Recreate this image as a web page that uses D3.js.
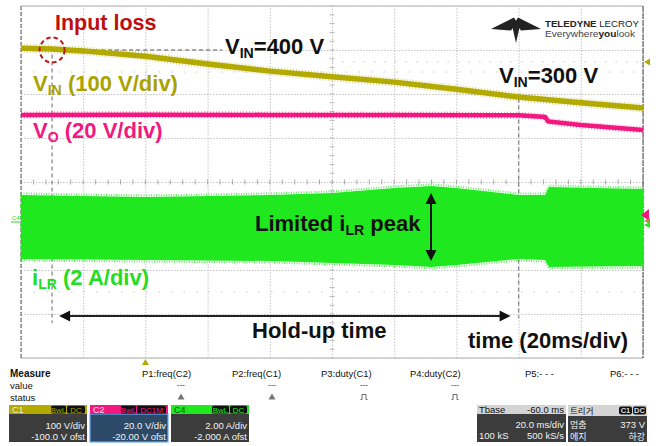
<!DOCTYPE html>
<html><head><meta charset="utf-8">
<script src="https://cdn.jsdelivr.net/npm/d3@7"></script>
<style>body{margin:0;background:#fff}svg{display:block}</style>
</head><body>
<svg id="c" width="664" height="446"></svg>
<script>
// ---------------- data ----------------
// time axis: 20 ms/div, trigger at t=0 (2 div from left), window -40..160 ms
const timeTicksMs = [-40, -20, 0, 20, 40, 60, 80, 100, 120, 140, 160];
// V_IN (C1, 100 V/div, centre = 100 V)
const vinTime  = [-40, -30, -20, 0, 20, 40, 60, 80, 100, 120, 140, 160];
const vinVolts = [404, 402, 398, 386, 368, 352, 339, 327, 311, 293, 280, 268];
// V_O (C2, 20 V/div, centre = 20 V)
const voTime  = [-40, 0, 40, 80, 120, 128.5, 129.5, 140, 160];
const voVolts = [50.5, 50.6, 50.5, 50.5, 50.3, 49.6, 47.5, 45.9, 43.6];
// i_LR envelope (C4, 2 A/div, centre = 2 A)
const ilrTime    = [-40, 0, 40, 60, 80, 92, 100, 120, 128.5, 129.8, 160];
const ilrPeakPos = [1.41, 1.32, 1.41, 1.5, 1.73, 1.82, 1.73, 1.41, 1.41, 1.77, 1.68];
const ilrPeakNeg = [-1.5, -1.55, -1.59, -1.68, -1.77, -1.86, -1.77, -1.5, -1.55, -1.86, -1.82];
// markers / annotations
const inputLossMs = -30, holdEndMs = 120;
const vinLabelLevels = [400, 300];
const triggerVolts = 373;
// measurement panel texts
const measureLabels = ["P1:freq(C2)", "P2:freq(C1)", "P3:duty(C1)", "P4:duty(C2)", "P5:- - -", "P6:- - -"];
const channelInfo = [
  {name: "C1", tags: ["BwL", "DC"], scale: "100 V/div", ofst: "-100.0 V ofst"},
  {name: "C2", tags: ["BwL", "DC1M"], scale: "20.0 V/div", ofst: "-20.00 V ofst"},
  {name: "C4", tags: ["BwL", "DC"], scale: "2.00 A/div", ofst: "-2.000 A ofst"}
];

// ---------------- layout ----------------
const L = 21, R = 643, T = 6, B = 358;
const svg = d3.select("#c");
const x = d3.scaleLinear().domain([-40, 160]).range([L, R]);
const yVin = d3.scaleLinear().domain([-300, 500]).range([B, T]);
const yVo = d3.scaleLinear().domain([-60, 100]).range([B, T]);
const yI = d3.scaleLinear().domain([-6, 10]).range([B, T]);

const COL_Y = "#b2aa00", COL_YT = "#aaa200", COL_P = "#f2187f", COL_G = "#1fe81f", COL_GT = "#22dd22";
const FONT = "'Liberation Sans', Arial, sans-serif";

// grid
const g = svg.append("g");
const gx = g.append("g").attr("transform", `translate(0,${B})`)
  .call(d3.axisBottom(x).tickValues(timeTicksMs).tickSize(-(B - T)).tickFormat(""));
gx.select(".domain").remove();
gx.selectAll("line").attr("stroke", "#c4c4c4").attr("stroke-dasharray", "1.5,1.5");
const gy = g.append("g").attr("transform", `translate(${L},0)`)
  .call(d3.axisLeft(yVin).tickValues(d3.range(-300, 501, 100)).tickSize(-(R - L)).tickFormat(""));
gy.select(".domain").remove();
gy.selectAll("line").attr("stroke", "#c4c4c4").attr("stroke-dasharray", "1.5,1.5");
// sparse dotted half-division rows
[350, -150].forEach(v => g.append("line").attr("x1", L).attr("x2", R)
  .attr("y1", yVin(v)).attr("y2", yVin(v)).attr("stroke", "#c8c8c8").attr("stroke-dasharray", "1.5,11"));
// centre tick marks
d3.range(-40, 160.1, 4).forEach(t => g.append("line").attr("x1", x(t)).attr("x2", x(t))
  .attr("y1", yVin(100) - 2.5).attr("y2", yVin(100) + 2.5).attr("stroke", "#aaa"));
d3.range(-300, 500.1, 20).forEach(v => g.append("line").attr("x1", x(60) - 2.5).attr("x2", x(60) + 2.5)
  .attr("y1", yVin(v)).attr("y2", yVin(v)).attr("stroke", "#bbb"));
// borders
g.append("line").attr("x1", L).attr("x2", R).attr("y1", T).attr("y2", T).attr("stroke", "#c8c8c8").attr("stroke-width", 1.5);
g.append("line").attr("x1", L).attr("x2", R).attr("y1", B).attr("y2", B).attr("stroke", "#c8c8c8").attr("stroke-width", 1.5);
g.append("line").attr("x1", L).attr("x2", L).attr("y1", T).attr("y2", B).attr("stroke", "#555").attr("stroke-dasharray", "4,2");
g.append("line").attr("x1", R).attr("x2", R).attr("y1", T).attr("y2", B).attr("stroke", "#444").attr("stroke-dasharray", "6,1");

// trigger level dotted line
g.append("line").attr("x1", x(60)).attr("x2", R).attr("y1", yVin(triggerVolts)).attr("y2", yVin(triggerVolts))
  .attr("stroke", "#c8c8c8").attr("stroke-dasharray", "1.5,9");

// cursors
svg.append("line").attr("x1", x(inputLossMs)).attr("x2", x(inputLossMs)).attr("y1", yVin(390)).attr("y2", 323)
  .attr("stroke", "#8a8a8a").attr("stroke-width", 1.3).attr("stroke-dasharray", "4,3");
svg.append("line").attr("x1", x(holdEndMs)).attr("x2", x(holdEndMs)).attr("y1", yVin(290)).attr("y2", 318)
  .attr("stroke", "#8a8a8a").attr("stroke-width", 1.3).attr("stroke-dasharray", "4,3");
svg.append("line").attr("x1", x(inputLossMs)).attr("x2", 222).attr("y1", yVin(400)).attr("y2", yVin(400))
  .attr("stroke", "#8a8a8a").attr("stroke-width", 1.3).attr("stroke-dasharray", "4,3");

// ---------------- traces ----------------
const ilrData = ilrTime.map((t, i) => ({t, hi: ilrPeakPos[i], lo: ilrPeakNeg[i]}));
svg.append("path").datum(ilrData)
  .attr("d", d3.area().x(d => x(d.t)).y0(d => yI(d.lo)).y1(d => yI(d.hi)))
  .attr("fill", COL_G);
svg.append("path").datum(ilrData)
  .attr("d", d3.area().x(d => x(d.t)).y0(d => yI(d.lo) + 1.5).y1(d => yI(d.hi) - 1.5))
  .attr("fill", "none").attr("stroke", COL_G).attr("stroke-width", 2).attr("stroke-dasharray", "1,1.5").attr("opacity", 0.7);

const vinData = vinTime.map((t, i) => ({t, v: vinVolts[i]}));
const vinLine = d3.line().x(d => x(d.t)).y(d => yVin(d.v));
svg.append("path").datum(vinData).attr("d", vinLine).attr("fill", "none")
  .attr("stroke", COL_Y).attr("stroke-width", 9).attr("stroke-dasharray", "1,2").attr("opacity", 0.45);
svg.append("path").datum(vinData).attr("d", vinLine).attr("fill", "none")
  .attr("stroke", COL_Y).attr("stroke-width", 5.5);

const voData = voTime.map((t, i) => ({t, v: voVolts[i]}));
const voLine = d3.line().x(d => x(d.t)).y(d => yVo(d.v));
svg.append("path").datum(voData).attr("d", voLine).attr("fill", "none")
  .attr("stroke", COL_P).attr("stroke-width", 7).attr("stroke-dasharray", "1,2").attr("opacity", 0.45);
svg.append("path").datum(voData).attr("d", voLine).attr("fill", "none")
  .attr("stroke", COL_P).attr("stroke-width", 4.5);

// ---------------- annotations ----------------
svg.append("circle").attr("cx", x(inputLossMs)).attr("cy", yVin(400)).attr("r", 12.5)
  .attr("fill", "none").attr("stroke", "#b81c1c").attr("stroke-width", 2).attr("stroke-dasharray", "4.5,3");

function label(xp, yp, parts, color, size, anchor) {
  const t = svg.append("text").attr("x", xp).attr("y", yp).attr("fill", color)
    .attr("font-family", FONT).attr("font-weight", "bold").attr("font-size", size)
    .attr("text-anchor", anchor || "start");
  parts.forEach(p => {
    if (typeof p === "string") t.append("tspan").text(p);
    else t.append("tspan").attr("font-size", p.size || size * 0.64).attr("dy", p.dy).text(p.t);
  });
  return t;
}
label(55, 30, ["Input loss"], "#c00d0d", 21.5);
label(225, 54, ["V", {t: "IN", dy: 4}, {t: "=" + vinLabelLevels[0] + " V", dy: -4, size: 22}], "#111", 22);
label(499, 83, ["V", {t: "IN", dy: 4}, {t: "=" + vinLabelLevels[1] + " V", dy: -4, size: 22}], "#111", 22);
label(33, 91, ["V", {t: "IN", dy: 4}, {t: " (100 V/div)", dy: -4, size: 22}], COL_YT, 22);
label(33, 138, ["V", {t: "O", dy: 4}, {t: " (20 V/div)", dy: -4, size: 22}], COL_P, 22);
label(32, 285, ["i", {t: "LR", dy: 4}, {t: " (2 A/div)", dy: -4, size: 22}], COL_GT, 22);
label(255, 231, ["Limited i", {t: "LR", dy: 4}, {t: " peak", dy: -4, size: 22}], "#111", 22);
label(252, 338, ["Hold-up time"], "#111", 22);
label(468, 348, ["time (20ms/div)"], "#111", 22);

// arrows
function arrowHead(xt, yt, dir) { // dir: "up","down","left","right"
  const l = 11, w = 5.5;
  let pts;
  if (dir === "up") pts = [[xt, yt], [xt - w, yt + l], [xt + w, yt + l]];
  if (dir === "down") pts = [[xt, yt], [xt - w, yt - l], [xt + w, yt - l]];
  if (dir === "left") pts = [[xt, yt], [xt + l, yt - w], [xt + l, yt + w]];
  if (dir === "right") pts = [[xt, yt], [xt - l, yt - w], [xt - l, yt + w]];
  svg.append("path").attr("d", "M" + pts.map(p => p.join(",")).join("L") + "Z").attr("fill", "#111");
}
const arrX = 431;
svg.append("line").attr("x1", arrX).attr("x2", arrX).attr("y1", 200).attr("y2", 254).attr("stroke", "#111").attr("stroke-width", 2);
arrowHead(arrX, 193, "up"); arrowHead(arrX, 261, "down");
const holdY = 316;
svg.append("line").attr("x1", x(inputLossMs) + 14).attr("x2", x(holdEndMs) - 16).attr("y1", holdY).attr("y2", holdY)
  .attr("stroke", "#222").attr("stroke-width", 2);
arrowHead(x(inputLossMs) + 7, holdY, "left"); arrowHead(x(holdEndMs) - 8, holdY, "right");

// channel markers on the edges
svg.append("path").attr("d", `M${R + 1},${yVin(triggerVolts)}l6,-3.5v7z`).attr("fill", COL_Y);
svg.append("path").attr("d", `M${R - 2},215l8,-6v12z`).attr("fill", COL_P);
svg.append("path").attr("d", `M${R + 1},221l6,-3v6z`).attr("fill", "#9a9a30");
svg.append("path").attr("d", `M${R + 1},225l6,-3v6z`).attr("fill", COL_G);
svg.append("text").attr("x", 12).attr("y", 220).attr("font-family", FONT).attr("font-size", 6)
  .attr("fill", COL_GT).text("C4");
svg.append("line").attr("x1", 11).attr("x2", 20).attr("y1", 222).attr("y2", 222).attr("stroke", COL_GT);
svg.append("path").attr("d", `M${x(0)},${B + 1}l-3.5,6h7z`).attr("fill", COL_Y);

// logo
const lg = svg.append("g").attr("fill", "#222");
lg.append("path").attr("d", "M491,29L514,17.5L517,22.5L511,30.5Z");
lg.append("path").attr("d", "M541,29L518,17.5L515,22.5L521,30.5Z");
lg.append("path").attr("d", "M511.5,23L520.5,23L516,43Z");
svg.append("text").attr("x", 545).attr("y", 27).attr("font-family", FONT).attr("font-size", 9.5)
  .attr("fill", "#222").attr("textLength", 94).attr("lengthAdjust", "spacingAndGlyphs")
  .call(t => { t.append("tspan").attr("font-weight", "bold").text("TELEDYNE "); t.append("tspan").text("LECROY"); });
svg.append("text").attr("x", 545).attr("y", 37).attr("font-family", FONT).attr("font-size", 8.5)
  .attr("fill", "#444").attr("textLength", 90).attr("lengthAdjust", "spacingAndGlyphs")
  .call(t => { t.append("tspan").text("Everywhere"); t.append("tspan").attr("font-weight", "bold").attr("fill", "#222").text("you"); t.append("tspan").text("look"); });

// ---------------- measurement panel ----------------
const P = svg.append("g").attr("font-family", FONT).attr("font-size", 9.5).attr("fill", "#111");
P.append("text").attr("x", 10).attr("y", 377).attr("font-weight", "bold").attr("font-size", 10).text("Measure");
const mx = [142, 232, 321, 410, 525, 610];
measureLabels.forEach((s, i) => P.append("text").attr("x", mx[i]).attr("y", 377).text(s));
P.append("text").attr("x", 10).attr("y", 389).text("value");
P.append("text").attr("x", 10).attr("y", 401).text("status");
[181, 272, 364, 455].forEach((cx, i) => {
  P.append("text").attr("x", cx).attr("y", 387).attr("text-anchor", "middle").attr("font-size", 8).text("---");
  if (i < 2) P.append("path").attr("d", `M${cx},393.5l-3.5,6h7z`).attr("fill", "#777");
  else P.append("path").attr("d", `M${cx - 3.5},399.5h1.5v-5h4v5h1.5`).attr("fill", "none").attr("stroke", "#666").attr("stroke-width", 1);
});

const chX = [9, 90, 171], chW = 78;
const chHead = [COL_Y, COL_P, COL_G], chHeadText = ["#f0f0d0", "#ffe0f0", "#1a4a1a"];
const tagFill = [COL_YT, COL_P, COL_G];
const tagW = [[16, 19], [16, 30], [18, 18]];
channelInfo.forEach((c, i) => {
  const x0 = chX[i];
  const gg = svg.append("g").attr("font-family", FONT);
  gg.append("rect").attr("x", x0).attr("y", 414).attr("width", chW).attr("height", 28)
    .attr("fill", i === 1 ? "#2c4a68" : "#3c3c3c").attr("stroke", i === 1 ? "#6aaaf0" : "none").attr("stroke-width", 1.2);
  gg.append("rect").attr("x", x0).attr("y", 405).attr("width", chW).attr("height", 9).attr("fill", chHead[i]);
  gg.append("text").attr("x", x0 + 3).attr("y", 412.8).attr("font-size", 9).attr("fill", chHeadText[i]).text(c.name);
  let tx = x0 + chW - 1;
  for (let k = c.tags.length - 1; k >= 0; k--) {
    const w = tagW[i][k];
    tx -= w;
    gg.append("rect").attr("x", tx).attr("y", 405.8).attr("width", w - 1).attr("height", 7.6).attr("rx", 1.5).attr("fill", "#111");
    gg.append("text").attr("x", tx + (w - 1) / 2).attr("y", 412.5).attr("text-anchor", "middle")
      .attr("font-size", 8).attr("fill", tagFill[i]).text(c.tags[k]);
  }
  gg.append("text").attr("x", x0 + chW - 2).attr("y", 429).attr("text-anchor", "end").attr("font-size", 9.5).attr("fill", "#f2f2f2").text(c.scale);
  gg.append("text").attr("x", x0 + chW - 2).attr("y", 439.5).attr("text-anchor", "end").attr("font-size", 9.5).attr("fill", "#f2f2f2").text(c.ofst);
});

// timebase box
const tb = svg.append("g").attr("font-family", FONT).attr("font-size", 9.5);
tb.append("rect").attr("x", 477).attr("y", 414).attr("width", 89).attr("height", 28).attr("fill", "#3c3c3c");
tb.append("rect").attr("x", 477).attr("y", 405).attr("width", 89).attr("height", 9).attr("fill", "#d4d4d4");
tb.append("text").attr("x", 479).attr("y", 413).attr("fill", "#111").text("Tbase");
tb.append("text").attr("x", 564).attr("y", 413).attr("text-anchor", "end").attr("fill", "#111").text("-60.0 ms");
tb.append("text").attr("x", 564).attr("y", 428).attr("text-anchor", "end").attr("fill", "#f2f2f2").text("20.0 ms/div");
tb.append("text").attr("x", 479).attr("y", 438.5).attr("fill", "#f2f2f2").text("100 kS");
tb.append("text").attr("x", 564).attr("y", 438.5).attr("text-anchor", "end").attr("fill", "#f2f2f2").text("500 kS/s");
// trigger box
const KR = "'Noto Sans CJK KR', sans-serif";
const tr = svg.append("g").attr("font-family", FONT).attr("font-size", 9.5);
tr.append("rect").attr("x", 568).attr("y", 416).attr("width", 79).attr("height", 26).attr("fill", "#3c3c3c");
tr.append("rect").attr("x", 568).attr("y", 405).attr("width", 79).attr("height", 11).attr("fill", "#d4d4d4");
tr.append("text").attr("x", 570).attr("y", 413.5).attr("font-family", KR).attr("font-size", 8.5).attr("fill", "#111").text("트리거");
[["C1", 619], ["DC", 633]].forEach(([s, xx]) => {
  tr.append("rect").attr("x", xx).attr("y", 406.5).attr("width", 13).attr("height", 8).attr("rx", 2).attr("fill", "#111");
  tr.append("text").attr("x", xx + 6.5).attr("y", 413.3).attr("text-anchor", "middle").attr("font-size", 7.5).attr("font-weight", "bold").attr("fill", "#ddd").text(s);
});
tr.append("text").attr("x", 570).attr("y", 427.5).attr("font-family", KR).attr("font-size", 9).attr("fill", "#f2f2f2").text("멈춤");
tr.append("text").attr("x", 645).attr("y", 427.5).attr("text-anchor", "end").attr("fill", "#f2f2f2").text(triggerVolts + " V");
tr.append("text").attr("x", 570).attr("y", 440).attr("font-family", KR).attr("font-size", 9).attr("fill", "#f2f2f2").text("에지");
tr.append("text").attr("x", 645).attr("y", 440).attr("text-anchor", "end").attr("font-family", KR).attr("font-size", 9).attr("fill", "#f2f2f2").text("하강");
</script>
</body></html>
